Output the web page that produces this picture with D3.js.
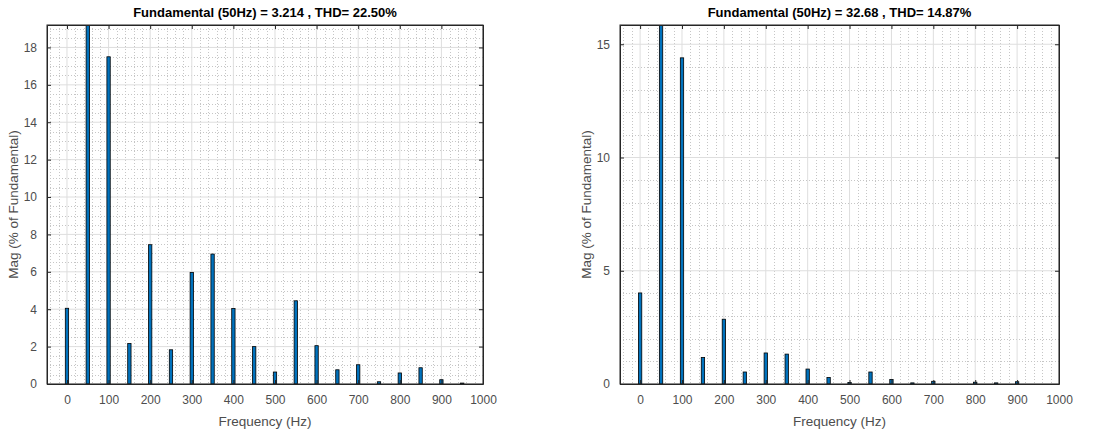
<!DOCTYPE html>
<html>
<head>
<meta charset="utf-8">
<script src="https://cdn.jsdelivr.net/npm/d3@7"></script>
<style>
  body { margin: 0; background: #fff; }
  svg { display: block; font-family: "Liberation Sans", Arial, sans-serif; }
</style>
</head>
<body>
<svg id="chart" width="1116" height="437"></svg>
<script>
"use strict";

// harmonic frequencies (Hz)
const freqs = [0, 50, 100, 150, 200, 250, 300, 350, 400, 450,
               500, 550, 600, 650, 700, 750, 800, 850, 900, 950];
// magnitude in % of fundamental, left spectrum
const magLeft = [4.05, 100, 17.5, 2.17, 7.45, 1.83, 5.97, 6.95, 4.04, 2.0,
                 0.64, 4.45, 2.05, 0.76, 1.03, 0.12, 0.59, 0.87, 0.23, 0.05];
// magnitude in % of fundamental, right spectrum
const magRight = [4.02, 100, 14.4, 1.17, 2.86, 0.53, 1.37, 1.32, 0.66, 0.29,
                  0.07, 0.53, 0.2, 0.05, 0.12, 0, 0.08, 0.05, 0.1, 0];

const titles = ["Fundamental (50Hz) = 3.214 , THD= 22.50%",
                "Fundamental (50Hz) = 32.68 , THD= 14.87%"];
const xTicks = [0, 100, 200, 300, 400, 500, 600, 700, 800, 900, 1000];
const yTicksLeft = [0, 2, 4, 6, 8, 10, 12, 14, 16, 18];
const yTicksRight = [0, 5, 10, 15];

const svg = d3.select("#chart");
const axisColor = "#262626";
const labelColor = "#4d4d4d";

const drawPanel = (opt, idx) => {
    const { left, right, top, bottom, data, yMax, yTicks, yMinorStep, title } = opt;
    const xScale = d3.scaleLinear().domain([-48, 1000]).range([left, right]);
    const yScale = d3.scaleLinear().domain([0, yMax]).range([bottom, top]);
    const g = svg.append("g");

    const clipId = "clip" + idx;
    g.append("clipPath").attr("id", clipId)
     .append("rect")
     .attr("x", left).attr("y", top)
     .attr("width", right - left).attr("height", bottom - top);

    // minor grid (dotted)
    const xMinor = d3.range(-40, 1001, 20).filter(v => v % 100 !== 0);
    const yMinor = d3.range(0, yMax, yMinorStep).filter(v => !yTicks.includes(v));
    g.append("g").selectAll("line").data(xMinor).join("line")
     .attr("x1", d => Math.round(xScale(d)) + 0.5).attr("x2", d => Math.round(xScale(d)) + 0.5)
     .attr("y1", top).attr("y2", bottom)
     .attr("stroke", "#c6c6c6").attr("stroke-width", 1)
     .attr("stroke-dasharray", "1,2");
    g.append("g").selectAll("line").data(yMinor).join("line")
     .attr("x1", left).attr("x2", right)
     .attr("y1", d => Math.round(yScale(d)) + 0.5).attr("y2", d => Math.round(yScale(d)) + 0.5)
     .attr("stroke", "#c6c6c6").attr("stroke-width", 1)
     .attr("stroke-dasharray", "1,2");

    // major grid
    g.append("g").selectAll("line").data(xTicks).join("line")
     .attr("x1", d => xScale(d)).attr("x2", d => xScale(d))
     .attr("y1", top).attr("y2", bottom)
     .attr("stroke", "#dedede").attr("stroke-width", 1);
    g.append("g").selectAll("line").data(yTicks).join("line")
     .attr("x1", left).attr("x2", right)
     .attr("y1", d => yScale(d)).attr("y2", d => yScale(d))
     .attr("stroke", "#dedede").attr("stroke-width", 1);

    // bars
    const barW = 8;
    g.append("g").attr("clip-path", `url(#${clipId})`)
     .selectAll("rect").data(freqs.map((f, i) => ({ f, v: data[i] })))
     .join("rect")
     .attr("x", d => xScale(d.f - barW / 2))
     .attr("width", xScale(barW) - xScale(0))
     .attr("y", d => yScale(d.v))
     .attr("height", d => yScale(0) - yScale(d.v))
     .attr("fill", "#0072bd")
     .attr("stroke", "#000")
     .attr("stroke-width", 0.8);

    // box
    g.append("rect")
     .attr("x", left).attr("y", top)
     .attr("width", right - left).attr("height", bottom - top)
     .attr("fill", "none").attr("stroke", axisColor).attr("stroke-width", 1);

    // axes with inner ticks
    const fmt = d3.format("d");
    const xAxis = g.append("g").attr("transform", `translate(0,${bottom})`)
     .call(d3.axisBottom(xScale).tickValues(xTicks).tickFormat(fmt)
           .tickSizeInner(-4).tickSizeOuter(0).tickPadding(11));
    const xTop = g.append("g").attr("transform", `translate(0,${top})`)
     .call(d3.axisTop(xScale).tickValues(xTicks).tickSizeInner(-4).tickSizeOuter(0).tickFormat(""));
    const yAxis = g.append("g").attr("transform", `translate(${left},0)`)
     .call(d3.axisLeft(yScale).tickValues(yTicks).tickFormat(fmt)
           .tickSizeInner(-4).tickSizeOuter(0).tickPadding(10));
    const yRight = g.append("g").attr("transform", `translate(${right},0)`)
     .call(d3.axisRight(yScale).tickValues(yTicks).tickSizeInner(-4).tickSizeOuter(0).tickFormat(""));
    [xAxis, xTop, yAxis, yRight].forEach(a => {
        a.select(".domain").attr("stroke", axisColor);
        a.selectAll(".tick line").attr("stroke", axisColor);
        a.selectAll(".tick text").attr("fill", labelColor)
         .style("font-size", "12px").style("font-family", "Liberation Sans, Arial, sans-serif");
    });

    // labels
    g.append("text")
     .attr("x", (left + right) / 2).attr("y", 17)
     .attr("text-anchor", "middle")
     .style("font-size", "13px").style("font-weight", "bold")
     .attr("fill", "#000").text(title);
    g.append("text")
     .attr("x", (left + right) / 2).attr("y", 426)
     .attr("text-anchor", "middle")
     .style("font-size", "13.5px")
     .attr("fill", labelColor).text("Frequency (Hz)");
    g.append("text")
     .attr("transform", `translate(${left - 29},${(top + bottom) / 2}) rotate(-90)`)
     .attr("text-anchor", "middle")
     .style("font-size", "13.5px")
     .attr("fill", labelColor).text("Mag (% of Fundamental)");
};

drawPanel({ left: 47, right: 483, top: 25, bottom: 384, data: magLeft,
            yMax: 19.2, yTicks: yTicksLeft, yMinorStep: 0.5, title: titles[0] }, 0);
drawPanel({ left: 620, right: 1059, top: 25, bottom: 384, data: magRight,
            yMax: 15.85, yTicks: yTicksRight, yMinorStep: 1, title: titles[1] }, 1);
</script>
</body>
</html>
